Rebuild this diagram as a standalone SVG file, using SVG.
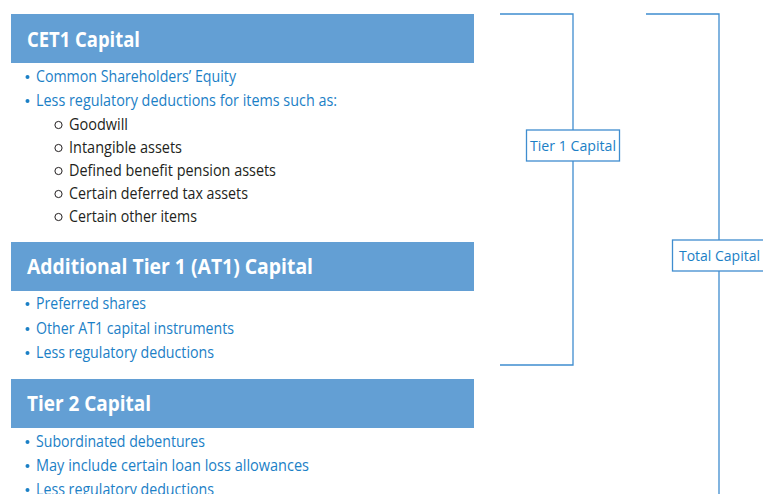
<svg xmlns="http://www.w3.org/2000/svg" width="763" height="494" viewBox="0 0 763 494">
<style>
.hdr{fill:#639fd4}
.ttl{font-family:"Open Sans","Liberation Sans",sans-serif;font-size:21px;font-weight:bold;fill:#fff}
.b{font-family:"Open Sans","Liberation Sans",sans-serif;font-size:15.5px;fill:#1b80c6}
.s{font-family:"Open Sans","Liberation Sans",sans-serif;font-size:15.5px;fill:#231f20}
.dot{fill:#1b80c6}
.circ{fill:none;stroke:#231f20;stroke-width:1}
.ln{fill:none;stroke:#3f8dcf;stroke-width:1.3}
.box{fill:#fff;stroke:#3f8dcf;stroke-width:1.3}
.lbl{font-family:"Open Sans","Liberation Sans",sans-serif;font-size:14.5px;fill:#1b80c6;text-anchor:middle}
</style>
<rect width="763" height="494" fill="#fff"/>
<g id="cet1">
<rect class="hdr" x="11" y="14" width="463" height="49"/>
<text class="ttl" x="27" y="47" textLength="113" lengthAdjust="spacingAndGlyphs">CET1 Capital</text>
<circle class="dot" cx="27.5" cy="77" r="2"/>
<text class="b" x="36" y="82" textLength="200" lengthAdjust="spacingAndGlyphs">Common Shareholders’ Equity</text>
<circle class="dot" cx="27.5" cy="101" r="2"/>
<text class="b" x="36" y="106" textLength="301" lengthAdjust="spacingAndGlyphs">Less regulatory deductions for items such as:</text>
<circle class="circ" cx="58.5" cy="125" r="3.6"/>
<text class="s" x="69" y="130" textLength="59" lengthAdjust="spacingAndGlyphs">Goodwill</text>
<circle class="circ" cx="58.5" cy="148" r="3.6"/>
<text class="s" x="69" y="153" textLength="113" lengthAdjust="spacingAndGlyphs">Intangible assets</text>
<circle class="circ" cx="58.5" cy="171" r="3.6"/>
<text class="s" x="69" y="176" textLength="207" lengthAdjust="spacingAndGlyphs">Defined benefit pension assets</text>
<circle class="circ" cx="58.5" cy="194" r="3.6"/>
<text class="s" x="69" y="199" textLength="179" lengthAdjust="spacingAndGlyphs">Certain deferred tax assets</text>
<circle class="circ" cx="58.5" cy="217" r="3.6"/>
<text class="s" x="69" y="222" textLength="128" lengthAdjust="spacingAndGlyphs">Certain other items</text>
</g>
<g id="at1">
<rect class="hdr" x="11" y="242" width="463" height="49"/>
<text class="ttl" x="27" y="274" textLength="286" lengthAdjust="spacingAndGlyphs">Additional Tier 1 (AT1) Capital</text>
<circle class="dot" cx="27.5" cy="304" r="2"/>
<text class="b" x="36" y="309" textLength="110" lengthAdjust="spacingAndGlyphs">Preferred shares</text>
<circle class="dot" cx="27.5" cy="329" r="2"/>
<text class="b" x="36" y="334" textLength="198" lengthAdjust="spacingAndGlyphs">Other AT1 capital instruments</text>
<circle class="dot" cx="27.5" cy="353" r="2"/>
<text class="b" x="36" y="358" textLength="178" lengthAdjust="spacingAndGlyphs">Less regulatory deductions</text>
</g>
<g id="tier2">
<rect class="hdr" x="11" y="379" width="463" height="49"/>
<text class="ttl" x="27" y="411" textLength="124" lengthAdjust="spacingAndGlyphs">Tier 2 Capital</text>
<circle class="dot" cx="27.5" cy="442" r="2"/>
<text class="b" x="36" y="447" textLength="169" lengthAdjust="spacingAndGlyphs">Subordinated debentures</text>
<circle class="dot" cx="27.5" cy="466" r="2"/>
<text class="b" x="36" y="471" textLength="273" lengthAdjust="spacingAndGlyphs">May include certain loan loss allowances</text>
<circle class="dot" cx="27.5" cy="490" r="2"/>
<text class="b" x="36" y="495" textLength="178" lengthAdjust="spacingAndGlyphs">Less regulatory deductions</text>
</g>
<g id="connectors">
<path class="ln" d="M500 14H573V365H500"/>
<path class="ln" d="M646 14H719V494"/>
</g>
<g id="tier1-label">
<rect class="box" x="526.5" y="130" width="93" height="31"/>
<text class="lbl" x="573" y="151" textLength="86" lengthAdjust="spacingAndGlyphs">Tier 1 Capital</text>
</g>
<g id="total-label">
<rect class="box" x="672.5" y="240" width="95" height="31"/>
<text class="lbl" x="719.5" y="261" textLength="81" lengthAdjust="spacingAndGlyphs">Total Capital</text>
</g>
</svg>
